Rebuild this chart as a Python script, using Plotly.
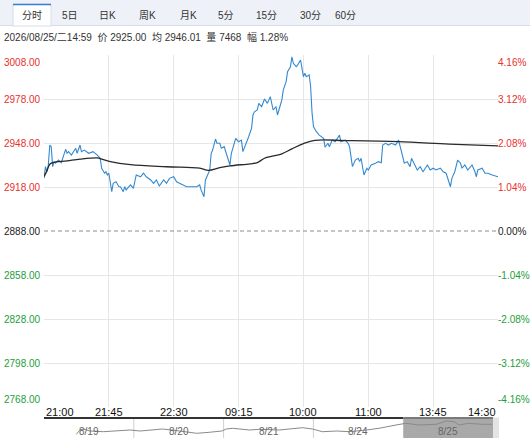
import plotly.graph_objects as go

W, H = 530, 438

# ---- data ----
prev_close = 2888.0
price_levels = [3008, 2978, 2948, 2918, 2888, 2858, 2828, 2798, 2768]
time_ticks = ["21:00", "21:45", "22:30", "09:15", "10:00", "11:00", "13:45", "14:30"]
tick_minutes = [0, 45, 90, 135, 180, 225, 270, 315]

minute = [0, 1, 2, 3, 4, 5, 6, 7, 8, 10, 12, 15, 16, 17, 19, 22, 23, 25, 26, 28, 31, 34, 37, 39, 40,
          42, 43, 44, 45, 47, 48, 50, 52, 53, 55, 56, 57, 60, 62, 64, 67, 69, 71, 74, 76, 78, 80, 83,
          85, 87, 90, 92, 94, 97, 99, 102, 106, 108, 109, 111, 112, 113, 115, 116, 117, 119, 120, 122,
          123, 125, 127, 129, 130, 133, 135, 137, 138, 140, 142, 144, 145, 146, 148, 149, 151, 153,
          155, 157, 158, 159, 161, 162, 164, 165, 166, 168, 169, 171, 172, 173, 175, 176, 178, 179,
          180, 181, 182, 184, 185, 186, 187, 189, 191, 194, 195, 197, 198, 200, 202, 205, 206, 209,
          211, 212, 214, 216, 218, 219, 220, 222, 224, 225, 227, 230, 232, 234, 235, 237, 239, 241,
          244, 246, 247, 249, 250, 252, 254, 255, 257, 259, 261, 263, 266, 268, 270, 272, 275, 277,
          279, 282, 283, 285, 287, 289, 290, 292, 294, 296, 297, 299, 300, 301, 304, 306, 308, 311,
          313, 315]
price = [2923.9, 2931.9, 2928.4, 2933.0, 2946.6, 2945.5, 2931.9, 2935.3, 2934.2, 2936.4, 2934.6,
         2943.7, 2941.0, 2942.1, 2939.8, 2944.4, 2941.0, 2946.6, 2942.1, 2943.2, 2941.0, 2942.1,
         2939.8, 2937.6, 2930.8, 2927.4, 2928.4, 2926.2, 2927.4, 2914.8, 2920.5, 2921.6, 2918.2,
         2918.2, 2914.8, 2918.2, 2916.0, 2919.4, 2917.1, 2926.2, 2925.0, 2927.4, 2925.0, 2922.8,
         2920.5, 2922.8, 2918.7, 2922.8, 2920.5, 2923.9, 2925.0, 2921.6, 2920.5, 2919.4, 2918.2,
         2918.2, 2918.2, 2919.4, 2916.0, 2911.4, 2922.8, 2925.0, 2929.6, 2941.0, 2943.2, 2950.7,
         2947.8, 2947.8, 2944.4, 2945.5, 2938.7, 2933.0, 2941.0, 2951.2, 2948.9, 2950.0, 2942.1,
         2946.6, 2952.3, 2958.0, 2967.1, 2969.3, 2970.5, 2975.0, 2972.8, 2978.0, 2975.0, 2979.6,
         2973.9, 2970.5, 2972.8, 2967.1, 2973.9, 2977.3, 2984.1, 2989.8, 2996.6, 3000.0, 3006.8,
         3002.3, 3000.0, 3001.2, 3004.6, 2997.8, 2993.2, 2995.5, 2993.2, 2994.4, 2986.4, 2968.2,
         2959.1, 2955.7, 2953.4, 2951.2, 2945.1, 2947.8, 2945.5, 2950.0, 2948.9, 2953.4, 2948.9,
         2950.0, 2947.8, 2945.5, 2931.9, 2936.4, 2937.6, 2935.3, 2937.6, 2926.2, 2930.8, 2929.6,
         2933.0, 2934.2, 2935.3, 2934.6, 2946.6, 2947.8, 2946.6, 2947.8, 2946.6, 2950.0, 2945.5,
         2936.4, 2934.2, 2935.3, 2931.9, 2937.6, 2933.0, 2929.6, 2931.9, 2928.4, 2933.0, 2929.6,
         2930.8, 2929.6, 2930.8, 2928.4, 2927.4, 2918.2, 2923.9, 2928.4, 2936.4, 2934.2, 2930.8,
         2933.0, 2929.6, 2931.9, 2933.0, 2928.4, 2925.0, 2929.6, 2930.8, 2927.4, 2927.4, 2926.2,
         2925.8, 2925.0]

avg_minute = [0, 2, 4, 6, 16, 25, 37, 40, 46, 60, 85, 108, 114, 122, 129, 143, 148, 153, 165, 172,
              180, 188, 211, 246, 281, 315]
avg_price = [2925.0, 2929.0, 2933.5, 2934.6, 2935.8, 2937.0, 2937.8, 2937.0, 2935.3, 2933.2,
             2931.8, 2930.9, 2929.4, 2931.2, 2932.4, 2933.8, 2934.6, 2937.6, 2940.6, 2944.0,
             2947.6, 2949.8, 2949.6, 2948.9, 2947.3, 2946.0]

# 5-day navigator (x in trading days)
nav_days = ["8/19", "8/20", "8/21", "8/24", "8/25"]
nav_x = [0.36, 0.40, 0.44, 0.51, 0.66, 0.81, 0.96, 1.07, 1.21, 1.32, 1.51, 1.70, 1.84, 1.98, 2.03,
         2.10, 2.18, 2.29, 2.40, 2.51, 2.62, 2.73, 2.88, 2.99, 3.10, 3.26, 3.40, 3.59, 3.73, 3.92,
         4.03, 4.18, 4.37, 4.48, 4.57, 4.62, 4.73, 4.88, 4.99]
nav_price = [2705, 2791, 2811, 2771, 2757, 2771, 2791, 2771, 2785, 2811, 2771, 2725, 2745, 2771,
             2811, 2825, 2811, 2791, 2805, 2791, 2791, 2811, 2837, 2811, 2757, 2771, 2757, 2791,
             2825, 2891, 2925, 2891, 2905, 2971, 2957, 2891, 2925, 2905, 2905]

header_text = "2026/08/25/二14:59  价 2925.00  均 2946.01  量 7468  幅 1.28%"
tabs = ["分时", "5日", "日K", "周K", "月K", "5分", "15分", "30分", "60分"]
tab_x = [32, 70, 107, 147, 188, 226, 266, 310, 345]

RED, GREEN, DARK = "#e8302c", "#1e9e3a", "#222222"
FONT = "Liberation Sans, Arial, Noto Sans CJK SC, sans-serif"


def px(x):
    return x / W


def py(y):
    return 1 - y / H


fig = go.Figure()
fig.add_trace(go.Scatter(x=minute, y=price, mode="lines",
                         line=dict(color="#3589cf", width=1.1), hoverinfo="skip"))
fig.add_trace(go.Scatter(x=avg_minute, y=avg_price, mode="lines",
                         line=dict(color="#2a2a2a", width=1.3, shape="spline"), hoverinfo="skip"))
fig.add_trace(go.Scatter(x=nav_x, y=nav_price, mode="lines", xaxis="x2", yaxis="y2",
                         line=dict(color="#8a8a8a", width=1), hoverinfo="skip"))

shapes = []
annotations = []

# tab bar
shapes.append(dict(type="rect", xref="paper", yref="paper", x0=0, x1=1, y0=py(25), y1=1,
                   fillcolor="#eef2f8", line_width=0, layer="below"))
shapes.append(dict(type="line", xref="paper", yref="paper", x0=0, x1=1, y0=py(25.5), y1=py(25.5),
                   line=dict(color="#d6dce7", width=1)))
shapes.append(dict(type="rect", xref="paper", yref="paper", x0=px(13), x1=px(51), y0=py(26), y1=py(4),
                   fillcolor="white", line=dict(color="#d6dce7", width=1)))
shapes.append(dict(type="line", xref="paper", yref="paper", x0=px(13), x1=px(51), y0=py(4.5), y1=py(4.5),
                   line=dict(color="#3a7fd5", width=1.5)))
for t, tx in zip(tabs, tab_x):
    annotations.append(dict(text=t, xref="paper", yref="paper", x=px(tx), y=py(15),
                            xanchor="center", yanchor="middle", showarrow=False,
                            font=dict(size=10, color="#333333", family=FONT)))
annotations.append(dict(text=header_text, xref="paper", yref="paper", x=px(2), y=py(37),
                        xanchor="left", yanchor="middle", showarrow=False,
                        font=dict(size=10, color="#333333", family=FONT)))

# prev close dashed line
shapes.append(dict(type="line", xref="x", yref="y", x0=0, x1=315, y0=prev_close, y1=prev_close,
                   line=dict(color="#8c8c8c", width=1, dash="4px,3px")))

# price / percent labels
for i, v in enumerate(price_levels):
    col = RED if v > prev_close else (GREEN if v < prev_close else DARK)
    pct = (v - prev_close) / prev_close * 100
    anchor = "top" if i == 0 else ("bottom" if i == len(price_levels) - 1 else "middle")
    annotations.append(dict(text=f"{v:.2f}", xref="paper", yref="y", x=px(43), y=v,
                            xanchor="right", yanchor=anchor, showarrow=False,
                            font=dict(size=10, color=col, family=FONT)))
    annotations.append(dict(text=f"{pct:.2f}%", xref="paper", yref="y", x=px(496), y=v,
                            xanchor="left", yanchor=anchor, showarrow=False,
                            font=dict(size=10, color=col, family=FONT)))

# time labels
for i, (t, m) in enumerate(zip(time_ticks, tick_minutes)):
    anchor = "left" if i == 0 else ("right" if i == len(time_ticks) - 1 else "center")
    annotations.append(dict(text=t, xref="x", yref="paper", x=m, y=py(412),
                            xanchor=anchor, yanchor="middle", showarrow=False,
                            font=dict(size=11, color="#111111", family=FONT)))

# navigator
shapes.append(dict(type="rect", xref="x2", yref="paper", x0=4, x1=5, y0=0, y1=py(417.5),
                   fillcolor="#a9a9a9", line_width=0, layer="below"))
shapes.append(dict(type="rect", xref="paper", yref="paper", x0=px(493), x1=px(499), y0=0, y1=py(417.5),
                   fillcolor="#e4e4e4", line_width=0, layer="below"))
shapes.append(dict(type="line", xref="paper", yref="paper", x0=px(44), x1=px(403), y0=py(418), y1=py(418),
                   line=dict(color="#333333", width=2)))
shapes.append(dict(type="line", xref="x2", yref="paper", x0=4, x1=5, y0=py(418), y1=py(418),
                   line=dict(color="#7a7a7a", width=2)))
for d in [1, 2, 3]:
    shapes.append(dict(type="line", xref="x2", yref="paper", x0=d, x1=d, y0=0, y1=py(419),
                       line=dict(color="#d0d0d0", width=1), layer="below"))
for i, d in enumerate(nav_days):
    annotations.append(dict(text=d, xref="x2", yref="paper", x=i + 0.5, y=py(431),
                            xanchor="center", yanchor="middle", showarrow=False,
                            font=dict(size=10, color="#666666", family=FONT)))

fig.update_layout(
    width=W, height=H,
    margin=dict(l=0, r=0, t=0, b=0),
    paper_bgcolor="white", plot_bgcolor="white",
    showlegend=False, hovermode=False,
    xaxis=dict(domain=[px(44), px(498)], range=[0, 315], tickvals=tick_minutes[1:-1],
               showticklabels=False, showgrid=True, gridcolor="#e6e6e6", gridwidth=1,
               zeroline=False, showline=False, ticks="", fixedrange=True),
    yaxis=dict(domain=[py(407), py(55)], range=[2768, 3008],
               tickvals=[v for v in price_levels if v != prev_close],
               showticklabels=False, showgrid=True, gridcolor="#e6e6e6", gridwidth=1,
               zeroline=False, showline=False, ticks="", fixedrange=True),
    xaxis2=dict(domain=[px(44), px(493)], range=[0, 5], anchor="y2", visible=False, fixedrange=True),
    yaxis2=dict(domain=[0, py(419)], range=[2631, 3011], anchor="x2", visible=False, fixedrange=True),
    shapes=shapes,
    annotations=annotations,
)

fig.write_html("out.html", config={"displayModeBar": False},
               post_script="document.body.style.margin='0';document.body.style.overflow='hidden';")
